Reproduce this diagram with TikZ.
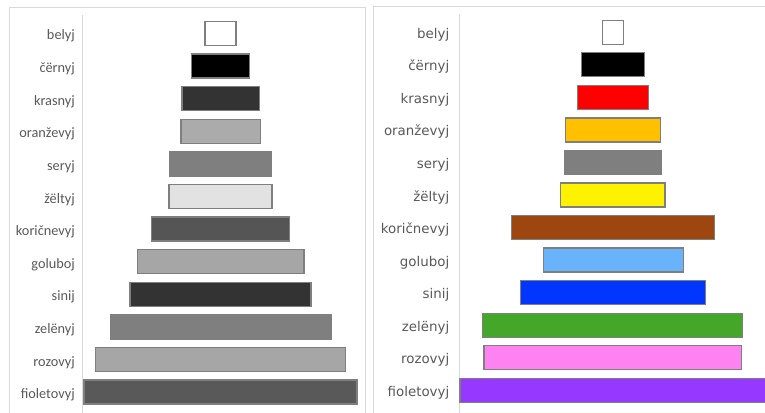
\documentclass[tikz,border=0pt]{standalone}
\usepackage{fontspec}
\setmainfont{Carlito}
\newfontfamily\rfont{DejaVu Sans}
\definecolor{txt}{HTML}{595959}
\definecolor{frame}{HTML}{D9D9D9}
\definecolor{edge}{HTML}{7F7F7F}
\definecolor{gA}{HTML}{333333}
\definecolor{gB}{HTML}{ABABAB}
\definecolor{gC}{HTML}{7F7F7F}
\definecolor{gD}{HTML}{E2E2E2}
\definecolor{gE}{HTML}{555555}
\definecolor{gF}{HTML}{A6A6A6}
\definecolor{gG}{HTML}{595959}
\definecolor{cOr}{HTML}{FFC000}
\definecolor{cBr}{HTML}{9E460F}
\definecolor{cLb}{HTML}{69B3FB}
\definecolor{cBl}{HTML}{0036FF}
\definecolor{cGr}{HTML}{45A72A}
\definecolor{cPk}{HTML}{FF82F3}
\definecolor{cVi}{HTML}{9638FF}
\tikzset{
  lab/.style={anchor=base east, inner sep=0pt, text=txt, font=\fontsize{14.3}{16}\selectfont},
  labR/.style={anchor=base east, inner sep=0pt, text=txt, font=\rfont\fontsize{13.4}{16}\selectfont},
  bar/.style={draw=edge, line width=1.3pt, inner sep=0pt, minimum height=24pt, rectangle},
  frm/.style={draw=frame, line width=1pt}
}
\begin{document}
\begin{tikzpicture}[x=1pt,y=-1pt]
\useasboundingbox (0,0) rectangle (765,412);
% frames
\draw[frm] (9,420) -- (9,8) -- (365.7,8) -- (365.7,420);
\draw[frm] (373.5,420) -- (373.5,7) -- (770,7);
\draw[frm] (82.7,15) -- (82.7,420);
\draw[frm] (459,14) -- (459,420);
% left panel
\foreach \i/\w/\c/\t [count=\k] in {
  0/31/white/belyj, 1/58/black/čërnyj, 2/77.3/gA/krasnyj, 3/79.3/gB/oranževyj,
  4/101.7/gC/seryj, 5/103/gD/žëltyj, 6/138.3/gE/koričnevyj, 7/166.6/gF/goluboj,
  8/181/gA/sinij, 9/220.7/gC/zelënyj, 10/249.7/gF/rozovyj, 11/273/gG/fioletovyj}{
  \node[bar, fill=\c, minimum width=\w pt] (lb\k) at (220.6, 33.5+32.6*\i) {};
  \node[lab] (ll\k) at (75, 40+32.6*\i) {\t};
}
% right panel
\foreach \i/\x/\w/\c/\t [count=\k] in {
  0/612.9/21.3/white/belyj, 1/613/63/black/čërnyj, 2/612.9/71.3/red/krasnyj,
  3/612.9/95.3/cOr/oranževyj, 4/612.9/96.7/gC/seryj, 5/612.7/104.3/yellow/žëltyj,
  6/613/203.6/cBr/koričnevyj, 7/613.4/139.7/cLb/goluboj, 8/613/185.6/cBl/sinij,
  9/612.8/260/cGr/zelënyj, 10/612.7/257.7/cPk/rozovyj, 11/613.5/307/cVi/fioletovyj}{
  \node[bar, fill=\c, minimum width=\w pt] (rb\k) at (\x, 32.2+32.55*\i) {};
  \node[labR] (rl\k) at (449.5, 38.3+32.55*\i) {\t};
}
\end{tikzpicture}
\end{document}
